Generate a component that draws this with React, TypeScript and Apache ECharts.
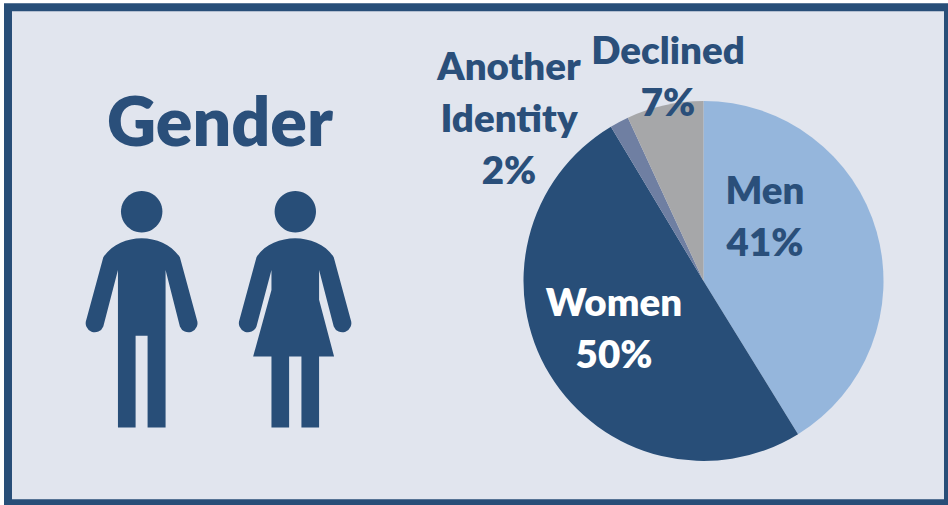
import React, { useEffect, useRef } from "react";
import * as echarts from "echarts";

const categories = ["Men", "Women", "Another\nIdentity", "Declined"];
const shares = [41.2, 50.2, 1.7, 6.9];
const shownPercents = [41, 50, 2, 7];
const sliceColors = ["#95B6DC", "#284E78", "#6F7FA2", "#A6A7A9"];
const labelColors = ["#2A4F7A", "#FFFFFF", "#2A4F7A", "#2A4F7A"];
const labelCentres = [[765, 215], [614, 327], [509, 117], [668, 75]];
const title = "Gender";

const NAVY = "#284E78";
const FONT = "Lato, sans-serif";

const manPath =
  "M215,205 C260,205 305,225 330,262 L381,450 A27,27 0 0 1 330,470 L287,300 L287,773 L233,773 L233,498 L197,498 L197,773 L144,773 L144,300 L100,470 A27,27 0 0 1 49,450 L100,262 C125,225 170,205 215,205 Z";
const womanPath =
  "M676,205 C720,205 770,225 792,262 L843,450 A27,27 0 0 1 792,470 L748,300 L748,390 L793,560 L748,560 L748,773 L695,773 L695,560 L658,560 L658,773 L605,773 L605,560 L550,560 L605,360 L605,300 L560,470 A27,27 0 0 1 509,450 L560,262 C582,225 632,205 676,205 Z";

echarts.graphic.registerShape("manFigure", echarts.graphic.extendPath(manPath as any, {}) as any);
echarts.graphic.registerShape("womanFigure", echarts.graphic.extendPath(womanPath as any, {}) as any);

export default function App() {
  const ref = useRef<HTMLDivElement>(null);
  useEffect(() => {
    const chart = echarts.init(ref.current!, null, { renderer: "svg" });
    chart.setOption({
      animation: false,
      backgroundColor: "#FFFFFF",
      graphic: [
        { type: "rect", z: 0, shape: { x: 8, y: 7.3, width: 940, height: 496 }, style: { fill: "#E1E5EE", stroke: NAVY, lineWidth: 8 } },
        { type: "text", z: 5, x: 220, y: 119, style: { text: title, fill: "#2A4F7A", font: `800 68px ${FONT}`, align: "center", verticalAlign: "middle" } },
        { type: "circle", z: 5, shape: { cx: 141.7, cy: 211.7, r: 20.7 }, style: { fill: NAVY } },
        { type: "circle", z: 5, shape: { cx: 295.3, cy: 211.7, r: 20.7 }, style: { fill: NAVY } },
        { type: "manFigure", z: 5, x: 70, y: 170, scaleX: 1 / 3, scaleY: 1 / 3, style: { fill: NAVY } },
        { type: "womanFigure", z: 5, x: 70, y: 170, scaleX: 1 / 3, scaleY: 1 / 3, style: { fill: NAVY } },
      ],
      series: [
        {
          type: "pie",
          z: 10,
          center: [703.5, 281],
          radius: 180,
          startAngle: 90,
          clockwise: true,
          avoidLabelOverlap: false,
          silent: true,
          labelLine: { show: false },
          label: {
            show: true,
            position: "inside",
            fontFamily: FONT,
            fontWeight: 800,
            fontSize: 38.5,
            lineHeight: 52,
            align: "center",
            verticalAlign: "middle",
            formatter: (p: any) => `${p.name}\n${shownPercents[p.dataIndex]}%`,
          },
          labelLayout: (p: any) => ({
            x: labelCentres[p.dataIndex][0],
            y: labelCentres[p.dataIndex][1],
            align: "center",
            verticalAlign: "middle",
          }),
          data: categories.map((name, i) => ({
            name,
            value: shares[i],
            itemStyle: { color: sliceColors[i] },
            label: { color: labelColors[i] },
          })),
        },
      ],
    });
    return () => chart.dispose();
  }, []);
  return <div ref={ref} style={{ position: "fixed", left: 0, top: 0, width: 948, height: 505 }} />;
}
